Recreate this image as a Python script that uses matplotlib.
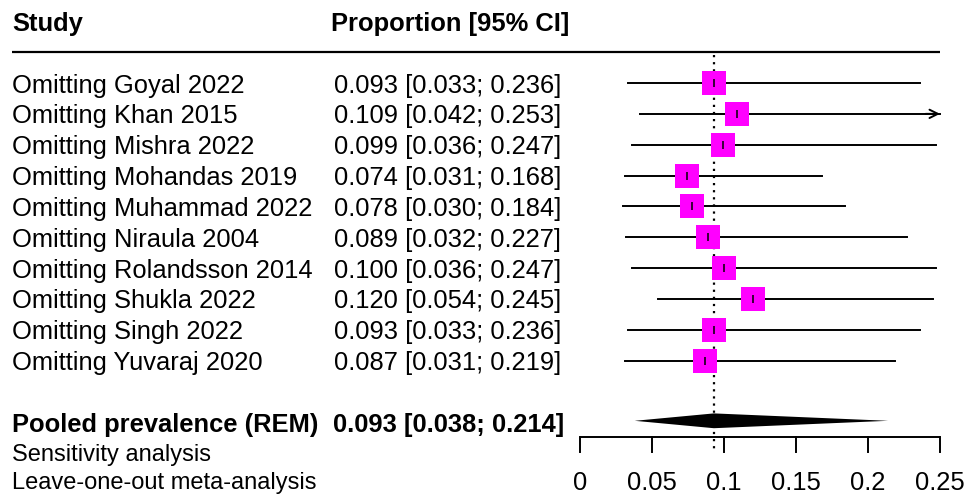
import numpy as np
import matplotlib
matplotlib.use("Agg")
import matplotlib.pyplot as plt

plt.rcParams["font.family"] = ["Liberation Sans", "DejaVu Sans"]

# ── data ──────────────────────────────────────────────────────────────────────
studies = ["Omitting Goyal 2022", "Omitting Khan 2015", "Omitting Mishra 2022",
           "Omitting Mohandas 2019", "Omitting Muhammad 2022", "Omitting Niraula 2004",
           "Omitting Rolandsson 2014", "Omitting Shukla 2022", "Omitting Singh 2022",
           "Omitting Yuvaraj 2020"]
est = [0.093, 0.109, 0.099, 0.074, 0.078, 0.089, 0.100, 0.120, 0.093, 0.087]
lo  = [0.033, 0.042, 0.036, 0.031, 0.030, 0.032, 0.036, 0.054, 0.033, 0.031]
hi  = [0.236, 0.253, 0.247, 0.168, 0.184, 0.227, 0.247, 0.245, 0.236, 0.219]

pooled_est, pooled_lo, pooled_hi = 0.093, 0.038, 0.214
xticks = [0, 0.05, 0.1, 0.15, 0.2, 0.25]
xmin, xmax = 0, 0.25

# ── layout (pixel geometry of the original) ──────────────────────────────────
W, H = 966, 496
x0_px, x1_px = 580, 940          # plot region for 0 .. 0.25
row_px, row0_px = 30.85, 83      # row spacing, first study row
ppu = (x1_px - x0_px) / (xmax - xmin)

fig = plt.figure(figsize=(W / 100, H / 100), dpi=100)
fig.patch.set_facecolor("white")
ax = fig.add_axes([0, 0, 1, 1])
ax.set_xlim(xmin - x0_px / ppu, xmin + (W - x0_px) / ppu)
ax.set_ylim((H - row0_px) / row_px, -row0_px / row_px)
ax.axis("off")

tr = ax.get_yaxis_transform()   # x in axes fraction (= figure px / W), y in rows
def fx(px):
    return px / W

fs = 18.4
fs_small = 17

# header
ax.text(fx(12), -2, "Study", transform=tr, fontsize=fs, fontweight="bold",
        va="center_baseline", ha="left")
ax.text(fx(331), -2, "Proportion [95% CI]", transform=tr, fontsize=fs,
        fontweight="bold", va="center_baseline", ha="left")
ax.plot([fx(12), fx(940)], [-1, -1], transform=tr, color="black", lw=1.6,
        solid_capstyle="butt")

# reference line at pooled estimate
ax.plot([pooled_est, pooled_est], [-0.9, 11.95], color="black", lw=1.6,
        linestyle=(0, (1, 2.2)))

# studies
for i, (name, e, l, h) in enumerate(zip(studies, est, lo, hi)):
    ax.text(fx(12), i, name, transform=tr, fontsize=fs, va="center_baseline", ha="left")
    ax.text(fx(334), i, f"{e:.3f} [{l:.3f}; {h:.3f}]", transform=tr, fontsize=fs,
            va="center_baseline", ha="left")
    if h > xmax:
        ax.plot([l, xmax], [i, i], color="black", lw=1.4, zorder=2)
        ax.annotate("", xy=(xmax, i), xytext=(xmax - 0.01, i),
                    arrowprops=dict(arrowstyle="->,head_length=0.6,head_width=0.3",
                                    color="black", lw=1.4, shrinkA=0, shrinkB=0))
    else:
        ax.plot([l, h], [i, i], color="black", lw=1.4, zorder=2)
    ax.plot(e, i, marker="s", markersize=17, color="#FF00FF", mec="#FF00FF",
            mew=0, zorder=3)
    ax.plot(e, i, marker="|", markersize=6, color="black", mew=1.1, zorder=4)

# pooled
yp = 11
ax.text(fx(12), yp, "Pooled prevalence (REM)", transform=tr, fontsize=fs,
        fontweight="bold", va="center_baseline", ha="left")
ax.text(fx(333), yp, f"{pooled_est:.3f} [{pooled_lo:.3f}; {pooled_hi:.3f}]",
        transform=tr, fontsize=fs, fontweight="bold", va="center_baseline", ha="left")
dh = 0.24
ax.fill([pooled_lo, pooled_est, pooled_hi, pooled_est],
        [yp - 0.05, yp - 0.05 - dh, yp - 0.05, yp - 0.05 + dh],
        color="black", lw=0, zorder=3)

ax.text(fx(12), 11.97, "Sensitivity analysis", transform=tr, fontsize=fs_small,
        va="center_baseline", ha="left")
ax.text(fx(12), 12.9, "Leave-one-out meta-analysis", transform=tr, fontsize=fs_small,
        va="center_baseline", ha="left")

# x axis
ya = 11.47
ax.plot([xmin, xmax], [ya, ya], color="black", lw=1.4, solid_capstyle="butt")
for t in xticks:
    ax.plot([t, t], [ya, ya + 0.48], color="black", lw=1.4)
    ax.text(t, 12.9, f"{t:g}", fontsize=fs, ha="center", va="center_baseline")

fig.savefig("out.png", dpi=100, facecolor="white")
